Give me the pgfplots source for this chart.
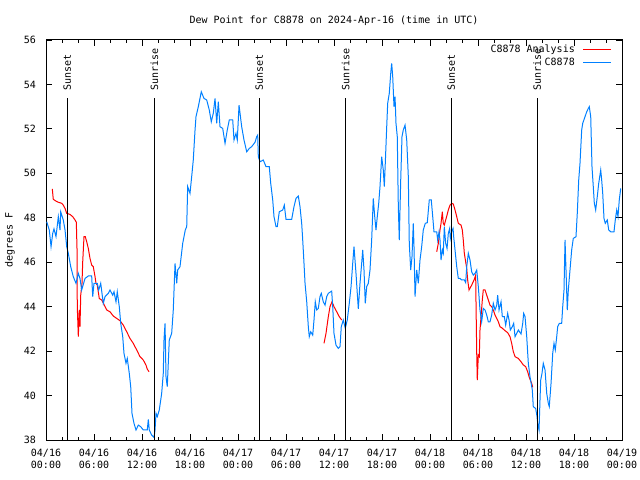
\documentclass[border=0pt]{standalone}
\usepackage{fontspec}
\setmainfont{DejaVu Sans Mono}
\usepackage{pgfplots}
\pgfplotsset{compat=1.18}

\definecolor{obsblue}{RGB}{0,128,255}
\definecolor{anared}{RGB}{255,0,0}

% hours since 04/16 00:00 UTC, dew point (F)
\pgfplotstableread{
h v
0.09 47.82
0.41 47.45
0.63 46.70
0.84 47.30
1.00 47.50
1.25 47.15
1.54 48.05
1.75 47.45
1.84 48.27
2.16 47.90
2.38 47.45
2.59 46.70
2.79 46.40
3.09 45.80
3.41 45.35
3.75 45.05
4.04 45.50
4.25 45.27
4.46 44.75
4.88 45.27
5.29 45.38
5.71 45.38
5.84 44.45
6.00 45.05
6.41 45.05
6.59 44.75
6.84 45.05
7.16 44.15
7.38 44.45
7.79 44.60
8.00 44.75
8.34 44.52
8.50 44.67
8.75 44.22
8.91 44.67
9.16 44.00
9.34 43.25
9.59 42.65
9.75 41.90
10.00 41.45
10.16 41.67
10.41 41.00
10.59 40.40
10.75 39.20
11.00 38.75
11.25 38.45
11.54 38.67
11.84 38.60
12.16 38.45
12.66 38.45
12.79 38.93
12.91 38.45
13.21 38.22
13.50 38.12
13.63 38.45
13.75 39.20
13.91 39.05
14.16 39.35
14.46 40.10
14.66 41.00
14.75 42.50
14.88 43.25
15.00 40.85
15.16 40.40
15.41 42.50
15.71 42.80
15.91 43.85
16.13 45.95
16.34 45.05
16.46 45.65
16.75 45.80
17.09 46.85
17.41 47.45
17.59 47.60
17.71 49.40
18.00 49.10
18.21 49.85
18.41 50.60
18.63 51.95
18.75 52.55
19.04 53.00
19.41 53.67
19.75 53.37
20.09 53.30
20.41 52.85
20.66 52.32
20.91 52.70
21.13 53.37
21.34 52.25
21.54 53.22
21.75 52.10
22.09 52.02
22.38 51.35
22.66 51.95
22.91 52.40
23.34 52.40
23.50 51.50
23.75 51.80
23.91 51.50
24.13 53.07
24.46 52.10
24.75 51.50
25.09 50.97
25.41 51.12
25.71 51.20
26.13 51.40
26.34 51.65
26.46 51.72
26.54 50.75
26.75 50.52
27.16 50.60
27.50 50.30
27.91 50.30
28.09 49.55
28.34 48.80
28.50 48.05
28.75 47.60
28.91 47.60
29.16 48.27
29.59 48.35
29.79 48.57
30.00 47.93
30.71 47.93
31.00 48.50
31.25 48.87
31.54 48.98
31.75 48.50
31.96 47.75
32.09 47.00
32.25 45.95
32.38 45.05
32.59 44.22
32.79 43.10
32.91 42.65
33.09 42.87
33.34 42.72
33.50 43.40
33.66 44.22
33.84 43.85
34.04 43.92
34.25 44.45
34.41 44.60
34.66 44.22
34.88 44.07
35.09 44.45
35.29 44.60
35.71 44.70
35.84 44.00
36.00 42.80
36.25 42.27
36.54 42.12
36.75 42.20
36.91 43.10
37.16 43.40
37.41 43.03
37.66 43.40
37.91 44.15
38.13 44.90
38.34 45.95
38.50 46.70
38.75 45.50
38.91 44.60
39.04 43.90
39.25 45.05
39.46 45.95
39.59 46.55
39.75 45.65
39.91 44.15
40.09 44.90
40.29 45.05
40.50 45.65
40.71 47.00
40.91 48.87
41.09 48.05
41.25 47.45
41.41 48.05
41.59 48.65
41.75 49.40
41.96 50.75
42.16 50.15
42.29 49.40
42.41 50.45
42.59 52.10
42.71 53.15
42.91 53.60
43.09 54.50
43.21 54.95
43.34 54.35
43.50 53.00
43.63 53.45
43.75 52.25
43.91 51.65
44.04 48.50
44.16 47.00
44.34 49.70
44.50 51.65
44.66 51.95
44.88 52.17
45.09 51.50
45.29 49.85
45.41 46.85
45.59 45.65
45.75 46.25
45.91 47.75
46.00 46.70
46.13 44.45
46.34 45.65
46.54 45.05
46.75 46.10
46.96 46.70
47.16 47.45
47.41 47.75
47.66 47.78
47.91 48.80
48.16 48.80
48.34 48.05
48.50 47.37
48.84 47.37
48.96 47.00
49.13 47.37
49.25 47.00
49.38 46.10
49.54 46.55
49.66 46.40
49.79 47.60
49.96 46.85
50.13 46.62
50.29 47.30
50.46 47.52
50.54 47.07
50.71 47.37
50.88 47.52
50.96 47.15
51.13 46.55
51.34 45.80
51.54 45.27
51.75 45.27
51.96 45.20
52.29 45.20
52.46 45.08
52.59 45.80
52.79 46.40
53.00 46.10
53.21 45.57
53.41 45.42
53.63 45.50
53.84 45.65
54.04 44.90
54.25 43.85
54.46 43.32
54.66 43.92
54.88 43.85
55.09 43.62
55.29 43.32
55.50 43.32
55.71 43.62
55.91 44.15
56.13 43.85
56.34 44.07
56.46 44.52
56.63 43.85
56.88 44.22
57.04 43.55
57.29 43.55
57.46 43.17
57.71 43.70
57.88 43.40
58.04 42.95
58.29 43.10
58.46 43.25
58.63 42.65
58.84 42.80
59.04 42.95
59.38 42.77
59.59 43.25
59.71 43.70
59.88 43.55
60.09 42.65
60.29 41.45
60.50 40.85
60.79 40.25
60.91 39.50
61.21 39.42
61.38 39.05
61.46 38.75
61.63 38.45
61.75 39.80
61.84 40.70
62.00 41.00
62.16 41.45
62.38 41.15
62.59 40.10
62.79 39.65
62.91 39.50
63.13 40.55
63.34 41.90
63.50 42.35
63.66 42.05
63.84 42.65
63.96 43.10
64.16 43.25
64.46 43.25
64.59 44.00
64.75 44.75
64.88 47.00
65.00 45.65
65.16 43.85
65.29 44.75
65.50 45.65
65.71 46.55
65.91 47.07
66.25 47.15
66.41 48.20
66.59 49.70
66.75 50.45
66.96 51.95
67.09 52.25
67.38 52.55
67.59 52.77
67.79 52.92
67.91 53.00
68.09 52.55
68.25 50.30
68.41 49.40
68.54 48.65
68.71 48.35
68.91 48.95
69.09 49.55
69.34 50.15
69.46 49.70
69.59 49.10
69.75 47.97
69.91 47.75
70.16 47.90
70.34 47.45
70.59 47.37
71.00 47.37
71.16 47.90
71.34 48.35
71.50 48.05
71.66 48.80
71.84 49.32
}\obsdata

\pgfplotstableread{
h v
0.79 49.30
0.91 48.83
1.25 48.75
1.54 48.70
1.96 48.65
2.16 48.57
2.38 48.42
2.59 48.20
3.00 48.15
3.34 48.05
3.63 47.90
3.79 47.80
3.88 46.55
3.91 44.00
4.04 42.65
4.16 43.85
4.25 43.10
4.34 44.52
4.50 45.05
4.59 46.02
4.75 47.15
4.91 47.15
5.09 46.92
5.29 46.62
5.50 46.17
5.71 45.87
5.91 45.80
6.13 45.35
6.25 45.05
6.41 44.97
6.66 44.37
6.96 44.30
7.16 44.17
7.38 44.00
7.59 43.85
8.00 43.77
8.41 43.58
8.84 43.47
9.25 43.37
9.66 43.17
10.09 42.87
10.50 42.57
10.91 42.35
11.34 42.05
11.75 41.75
12.16 41.60
12.50 41.37
12.66 41.19
12.88 41.07
nan nan
34.75 42.35
35.00 42.80
35.29 43.55
35.50 44.00
35.75 44.22
36.00 44.00
36.34 43.77
36.66 43.55
36.96 43.40
nan nan
48.84 46.47
49.04 46.85
49.25 47.45
49.38 47.75
49.54 48.27
49.66 47.75
49.79 47.67
49.96 47.90
50.13 48.12
50.29 48.35
50.50 48.57
50.71 48.65
50.91 48.62
51.13 48.35
51.34 48.05
51.54 47.75
51.88 47.67
52.04 47.45
52.16 47.00
52.29 46.40
52.46 46.02
52.59 45.72
52.71 45.20
52.88 44.75
53.21 44.97
53.54 45.23
53.71 45.42
53.75 44.22
53.84 41.90
53.91 40.70
54.04 41.82
54.16 41.75
54.25 42.95
54.38 43.55
54.54 44.30
54.66 44.75
54.88 44.75
55.09 44.52
55.29 44.30
55.50 44.07
55.71 44.00
55.91 43.85
56.13 43.62
56.34 43.47
56.54 43.32
56.75 43.10
57.04 43.03
57.38 42.92
57.71 42.83
58.00 42.65
58.21 42.35
58.41 41.98
58.63 41.75
59.04 41.67
59.38 41.52
59.66 41.38
59.96 41.30
60.21 41.07
60.38 40.85
60.54 40.70
60.71 40.55
60.84 40.37
}\anadata

\begin{document}
\fontsize{10bp}{12bp}\selectfont
\begin{tikzpicture}
\useasboundingbox (0,0) rectangle (640bp,480bp);
\begin{axis}[
  at={(46bp,40bp)}, anchor=south west,
  scale only axis, width=576bp, height=400bp,
  xmin=0, xmax=72, ymin=38, ymax=56,
  xtick={0,6,...,72},
  minor x tick num=2,
  xticklabels={{04/16\\00:00},{04/16\\06:00},{04/16\\12:00},{04/16\\18:00},
               {04/17\\00:00},{04/17\\06:00},{04/17\\12:00},{04/17\\18:00},
               {04/18\\00:00},{04/18\\06:00},{04/18\\12:00},{04/18\\18:00},
               {04/19\\00:00}},
  ytick={38,40,...,56},
  tick align=inside,
  major tick length=6bp, minor tick length=3bp,
  tick style={black, line width=0.8bp},
  axis line style={black, line width=1bp},
  /pgf/number format/assume math mode=true,
  tick label style={font=\fontsize{10bp}{12bp}\selectfont},
  xticklabel style={align=center, inner sep=0pt, yshift=-9bp},
  yticklabel style={inner sep=0pt, xshift=-10bp},
  ylabel={degrees F},
  every axis y label/.style={at={(rel axis cs:0,0.5)}, xshift=-36bp, rotate=90, anchor=center, font=\fontsize{10bp}{12bp}\selectfont},
  unbounded coords=jump,
  clip=false,
  legend cell align=right,
  legend plot pos=right,
  legend image code/.code={\draw[#1] (0bp,0bp) -- (28bp,0bp);},
  legend style={at={(rel axis cs:1,1)}, anchor=north east, xshift=-10bp, yshift=-3bp,
                draw=none, fill=none, inner sep=0pt, row sep=0pt, column sep=6bp,
                nodes={inner sep=2bp, text height=7bp, text depth=2bp},
                font=\fontsize{10bp}{12bp}\selectfont},
]
\addplot[anared, line width=1bp] table[x=h, y=v] {\anadata};
\addlegendentry{C8878 Analysis}
\addplot[obsblue, line width=1bp] table[x=h, y=v] {\obsdata};
\addlegendentry{C8878}

\foreach \t/\lab in {2.66/Sunset, 13.54/Sunrise, 26.66/Sunset, 37.46/Sunrise, 50.66/Sunset, 61.38/Sunrise} {
  \edef\tmp{\noexpand\draw[black, line width=1bp] (axis cs:\t,38) -- (axis cs:\t,53.38);
    \noexpand\node[rotate=90, anchor=west, inner sep=0pt, xshift=1bp] at (axis cs:\t,53.67) {\lab};}
  \tmp
}
\node[anchor=center] at (rel axis cs:0.5,1) [yshift=19bp] {Dew Point for C8878 on 2024-Apr-16 (time in UTC)};
\end{axis}
\end{tikzpicture}
\end{document}
